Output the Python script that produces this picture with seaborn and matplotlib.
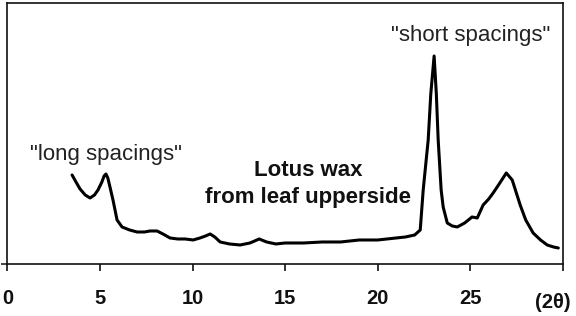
import matplotlib
matplotlib.use("Agg")
import matplotlib.pyplot as plt
import seaborn as sns
import pandas as pd

sns.set_theme(style="white")
plt.rcParams['font.family'] = ['Liberation Sans', 'DejaVu Sans']

two_theta = [3.49, 3.7, 3.92, 4.2, 4.46, 4.7, 4.89, 5.1, 5.22, 5.32, 5.42, 5.55, 5.7, 5.92, 6.19,
             6.6, 7.0, 7.4, 7.7, 8.08, 8.4, 8.78, 9.2, 9.6, 10.03, 10.4, 10.7, 10.95,
             11.2, 11.49, 12.0, 12.57, 13.1, 13.6, 14.0, 14.5, 15.0, 16.0, 17.0, 18.0,
             19.0, 20.0, 21.0, 21.5, 22.0, 22.3, 22.46, 22.6, 22.73, 22.87, 23.05,
             23.17, 23.27, 23.43, 23.54, 23.76, 24.03, 24.3, 24.7, 25.1, 25.38, 25.7,
             26.0, 26.24, 26.6, 26.95, 27.27, 27.7, 28.0, 28.4, 28.8, 29.16, 29.5, 29.76]
intensity = [89, 82, 75, 69, 66, 69, 74, 82, 88, 90, 86, 76, 64, 44, 37,
             34, 32, 32, 33, 33, 30, 26, 25, 25, 24, 26, 28, 30,
             27, 22, 20, 19, 21, 25, 22, 20, 21, 21, 22, 22,
             24, 24, 26, 27, 29, 34, 74, 100, 124, 170, 208,
             170, 124, 74, 57, 41, 38, 37, 41, 47, 46, 59,
             65, 71, 81, 91, 84, 59, 44, 31, 24, 19, 17, 16]

x_ticks = [0, 5, 10, 15, 20, 25, 30]
x_tick_labels = ["0", "5", "10", "15", "20", "25", ""]

df = pd.DataFrame({"two_theta": two_theta, "intensity": intensity})

fig = plt.figure(figsize=(5.76, 3.16), dpi=100)
ax = fig.add_axes([0.013, 0.1646, 0.964, 0.826])
sns.lineplot(data=df, x="two_theta", y="intensity", ax=ax, color="black",
             linewidth=2.2, sort=False)

ax.set_xlim(0, 30)
ax.set_ylim(0, 261)
ax.set_xticks(x_ticks)
ax.set_xticklabels(x_tick_labels, fontweight="bold", fontsize=14.5,
                   color="#111111")
ax.set_yticks([0])
ax.set_yticklabels([])
ax.tick_params(axis="x", direction="out", length=5, width=1.2, pad=13,
               bottom=True, colors="#111111")
ax.tick_params(axis="x", labelcolor="#111111")
ax.tick_params(axis="y", direction="out", length=4, width=1.2, left=True)
ax.set_xlabel("")
ax.set_ylabel("")
for s in ax.spines.values():
    s.set_visible(True)
    s.set_color("#111111")
    s.set_linewidth(1.2)

ax.text(5.32, 109, '"long spacings"', ha="center", va="center", fontsize=16,
        color="#222222")
ax.text(25.05, 228, '"short spacings"', ha="center", va="center", fontsize=16,
        color="#222222")
ax.text(16.24, 80, "Lotus wax\nfrom leaf upperside", ha="center", va="center",
        fontsize=16, fontweight="bold", color="#111111", linespacing=1.35)
fig.text(0.96, 0.042, "(2θ)", ha="center", va="center", fontsize=14.5,
         fontweight="bold", color="#111111")

fig.savefig("out.png", dpi=100)
